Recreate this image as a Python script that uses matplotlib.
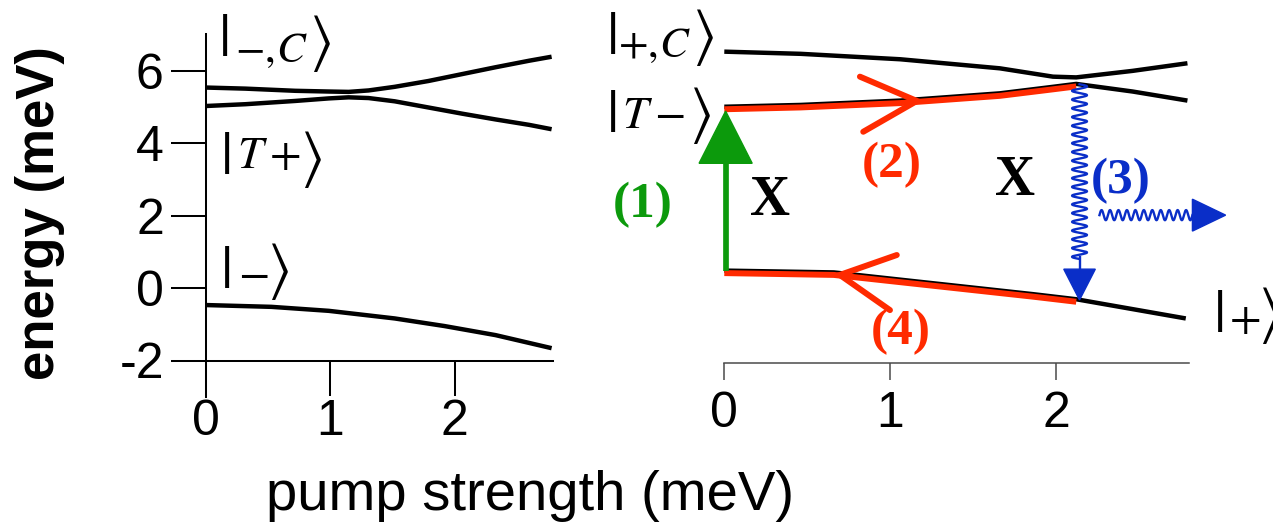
import numpy as np
import matplotlib
matplotlib.use("Agg")
import matplotlib.pyplot as plt
from matplotlib.patches import Polygon
from matplotlib.transforms import ScaledTranslation

plt.rcParams['font.family'] = ['Liberation Sans', 'DejaVu Sans']
plt.rcParams['mathtext.fontset'] = 'stix'

# ---- left panel: |-,C>, |T+>, |-> levels vs pump strength ----
x_left = [0, 0.32, 0.72, 0.99, 1.15, 1.31, 1.52, 1.79, 2.06, 2.33, 2.60, 2.78]
e_minus_c = [5.53, 5.50, 5.44, 5.42, 5.41, 5.45, 5.55, 5.71, 5.90, 6.09, 6.27, 6.38]
e_t_plus = [5.02, 5.07, 5.16, 5.23, 5.26, 5.24, 5.15, 4.98, 4.81, 4.65, 4.50, 4.38]
x_minus = [0, 0.53, 0.99, 1.52, 1.92, 2.33, 2.78]
e_minus = [-0.47, -0.52, -0.63, -0.84, -1.05, -1.30, -1.66]

# ---- right panel: |+,C>, |T->, |+> levels vs pump strength ----
x_right = [0, 0.46, 1.06, 1.66, 1.98, 2.12, 2.46, 2.79]
e_plus_c = [6.52, 6.46, 6.31, 6.06, 5.83, 5.81, 5.99, 6.20]
e_t_minus = [5.00, 5.05, 5.17, 5.37, 5.55, 5.63, 5.42, 5.17]
x_plus = [0, 0.66, 1.26, 1.86, 2.12, 2.78]
e_plus = [0.48, 0.43, 0.13, -0.17, -0.31, -0.84]

x_ticks = [0, 1, 2]
y_ticks = [-2, 0, 2, 4, 6]

GREEN = '#0c9a0c'
RED = '#ff2a00'
BLUE = '#0a2ec8'

W, H = 1273, 523
fig = plt.figure(figsize=(W / 100, H / 100), dpi=100)

bottom = (H - 396.75) / H
height = 362.5 / H
ax_l = fig.add_axes([205.5 / W, bottom, 2.79 * 124.5 / W, height])
ax_r = fig.add_axes([724.3 / W, bottom, 2.8 * 166 / W, height])

for ax, xmax in ((ax_l, 2.79), (ax_r, 2.8)):
    ax.set_xlim(0, xmax)
    ax.set_ylim(-3, 7)
    ax.patch.set_alpha(0)
    ax.spines['top'].set_visible(False)
    ax.spines['right'].set_visible(False)
    ax.set_xticks(x_ticks)
    ax.set_xticklabels([str(t) for t in x_ticks])

# left axes styling
ax_l.spines['bottom'].set_position(('data', -2))
for s in ('left', 'bottom'):
    ax_l.spines[s].set_linewidth(1.45)
ax_l.set_yticks(y_ticks)
ax_l.set_yticklabels([str(t) for t in y_ticks])
ax_l.tick_params(axis='both', direction='out', length=25, width=1.45,
                 labelsize=36, colors='black')
ax_l.tick_params(axis='y', pad=5)
ax_l.tick_params(axis='x', pad=3)

# right axes styling
ax_r.spines['left'].set_visible(False)
ax_r.spines['bottom'].set_position(('data', -2.07))
ax_r.spines['bottom'].set_linewidth(1.1)
ax_r.spines['bottom'].set_color('#4a4a4a')
ax_r.set_yticks([])
ax_r.tick_params(axis='x', direction='out', length=12, width=1.1,
                 color='#4a4a4a', labelcolor='black', labelsize=36, pad=8)

# energy levels
lw_level = 3.2
for ax, xs_, ys_ in ((ax_l, x_left, e_minus_c), (ax_l, x_left, e_t_plus),
                     (ax_l, x_minus, e_minus), (ax_r, x_right, e_plus_c),
                     (ax_r, x_right, e_t_minus), (ax_r, x_plus, e_plus)):
    ax.plot(xs_, ys_, color='black', lw=lw_level, solid_capstyle='butt',
            solid_joinstyle='round')

# red relaxation paths along |T-> and |+>, drawn just under the black levels
shift = ax_r.transData + ScaledTranslation(0, -2.5 / 100, fig.dpi_scale_trans)
ax_r.plot(x_right[:6], e_t_minus[:6], color=RED, lw=4.3, transform=shift,
          solid_capstyle='butt', zorder=3)
ax_r.plot(x_plus[:5], e_plus[:5], color=RED, lw=4.3, transform=shift,
          solid_capstyle='butt', zorder=3)

# open chevrons on the red paths
ax_r.plot([0.817, 1.16, 0.837], [5.83, 5.16, 4.31], color=RED, lw=4.3,
          solid_capstyle='round', solid_joinstyle='miter', zorder=4)
ax_r.plot([1.039, 0.696, 0.998], [0.91, 0.36, -0.61], color=RED, lw=4.3,
          solid_capstyle='round', solid_joinstyle='miter', zorder=4)

# (1) green excitation arrow
ax_r.plot([0.008, 0.008], [0.47, 3.5], color=GREEN, lw=4.1,
          solid_capstyle='butt', zorder=4, clip_on=False)
ax_r.add_patch(Polygon([[-0.152, 3.44], [0.168, 3.44], [0.008, 4.88]],
                       closed=True, color=GREEN, zorder=4, clip_on=False))

# (3) blue wavy emission arrows
x_em = 2.14
t = np.linspace(0, 1, 1200)
ys = 5.62 + (0.80 - 5.62) * t
ax_r.plot(x_em + 0.045 * np.sin(2 * np.pi * 20 * t), ys, color=BLUE, lw=1.7,
          zorder=5, clip_on=False)
ax_r.plot([x_em, x_em], [0.85, 0.50], color=BLUE, lw=1.7, zorder=5)
ax_r.add_patch(Polygon([[x_em - 0.095, 0.52], [x_em + 0.095, 0.52],
                        [x_em, -0.33]], closed=True, color=BLUE, zorder=5,
                       clip_on=False))
th = np.linspace(0, 1, 800)
xs = 2.26 + (2.82 - 2.26) * th
ax_r.plot(xs, 2.01 + 0.14 * np.sin(2 * np.pi * 11 * th), color=BLUE, lw=1.7,
          zorder=5, clip_on=False)
ax_r.add_patch(Polygon([[2.82, 2.45], [2.82, 1.57], [3.02, 2.01]],
                       closed=True, color=BLUE, zorder=5, clip_on=False))


def px(x, y):
    return x / W, 1 - y / H


def ket(bar_xy, inner, inner_xy, close_xy, inner_ha='left',
        inner_va='baseline', big=44, small=33):
    fig.text(*px(*bar_xy), r'$|$', fontsize=big, ha='center', va='center')
    fig.text(*px(*inner_xy), inner, fontsize=small, ha=inner_ha, va=inner_va)
    fig.text(*px(*close_xy), r'$\rangle$', fontsize=big, ha='center',
             va='center')


# state labels
ket((223, 41), r'$-,\!C$', (271, 62), (320, 43), inner_ha='center', small=31)
ket((225, 159), r'$T+$', (237, 168), (311, 159))
ket((225, 272), r'$-$', (253, 274), (278, 272), inner_ha='center',
    inner_va='center')
ket((611, 38), r'$+,\!C$', (654, 57), (703, 38), inner_ha='center', small=31)
ket((611, 116), r'$T-$', (622, 128), (700, 116))
ket((1218, 316), r'$+$', (1245, 320), (1269, 316), inner_ha='center',
    inner_va='center')

# process labels
serif = dict(family=['Liberation Serif', 'DejaVu Serif'], weight='bold',
             ha='center', va='center')
ax_r.text(0.276, 2.40, 'X', fontsize=40, color='black', **serif)
ax_r.text(1.75, 2.95, 'X', fontsize=40, color='black', **serif)
ax_r.text(-0.49, 2.29, '(1)', fontsize=37, color=GREEN, **serif)
ax_r.text(1.01, 3.39, '(2)', fontsize=37, color=RED, **serif)
ax_r.text(2.39, 2.95, '(3)', fontsize=37, color=BLUE, **serif)
ax_r.text(1.065, -1.21, '(4)', fontsize=37, color=RED, **serif)

# axis titles
fig.text(40 / W, 1 - 213 / H, 'energy (meV)', rotation=90, fontsize=38,
         fontweight='bold', ha='center', va='center')
fig.text(530 / W, 1 - 496 / H, 'pump strength (meV)', fontsize=40.5,
         ha='center', va='center')

fig.savefig('out.png', dpi=100)
